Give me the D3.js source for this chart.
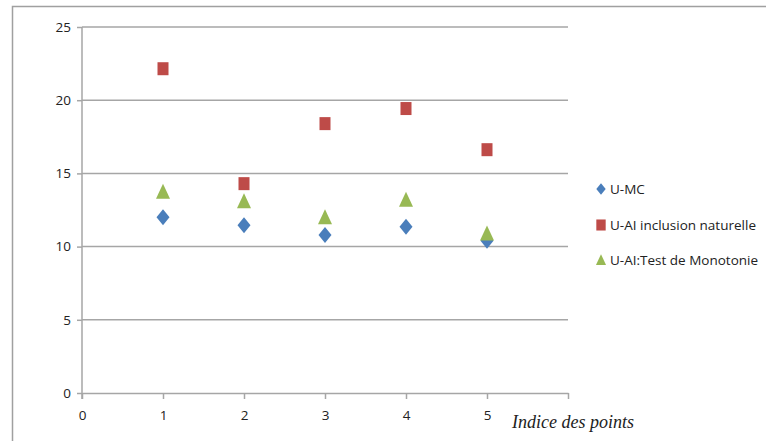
<!DOCTYPE html>
<html>
<head>
<meta charset="utf-8">
<script src="https://cdn.jsdelivr.net/npm/d3@7"></script>
<style>
  html, body { margin: 0; padding: 0; background: #fff; }
  svg { display: block; }
</style>
</head>
<body>
<svg id="chart" width="766" height="441"></svg>
<script>
// Point indices and the three series measured at each point
const pointIndex = [1, 2, 3, 4, 5];
const uMC = [12.0, 11.45, 10.8, 11.35, 10.4];
const uAIInclusion = [22.15, 14.3, 18.4, 19.43, 16.62];
const uAIMonotonie = [13.75, 13.1, 12.0, 13.2, 10.9];
const seriesNames = ["U-MC", "U-AI inclusion naturelle", "U-AI:Test de Monotonie"];
const yTicks = [0, 5, 10, 15, 20, 25];
const xTicks = [0, 1, 2, 3, 4, 5, 6];
const xTickLabels = ["0", "1", "2", "3", "4", "5"];
const xTitle = "Indice des points";

const svg = d3.select("#chart");
const W = 766, H = 441;
const plot = { left: 82, right: 568, top: 27, bottom: 393 };

const x = d3.scaleLinear().domain([0, 6]).range([plot.left, plot.right]);
const y = d3.scaleLinear().domain([0, 25]).range([plot.bottom, plot.top]);

const gridColor = "#a6a6a6";
const textColor = "#222";
const font = "'Open Sans', 'Liberation Sans', sans-serif";

// Outer chart frame (top and left edges)
svg.append("path")
  .attr("d", `M12.5,${H} L12.5,6.5 L${W},6.5`)
  .attr("fill", "none")
  .attr("stroke", "#a0a0a0")
  .attr("stroke-width", 1.5);

// Horizontal gridlines
svg.append("g")
  .selectAll("line")
  .data(yTicks.filter(d => d > 0))
  .join("line")
  .attr("x1", plot.left).attr("x2", plot.right)
  .attr("y1", d => y(d)).attr("y2", d => y(d))
  .attr("stroke", gridColor)
  .attr("stroke-width", 1.5);

// Y axis
const yAxis = svg.append("g")
  .attr("transform", `translate(${plot.left},0)`)
  .call(d3.axisLeft(y).tickValues(yTicks).tickSize(5).tickPadding(6).tickSizeOuter(0));
yAxis.select(".domain").remove();
yAxis.append("line")
  .attr("x1", 0).attr("x2", 0)
  .attr("y1", plot.top).attr("y2", plot.bottom + 6)
  .attr("stroke", gridColor).attr("stroke-width", 1.5);
yAxis.selectAll(".tick line").attr("stroke", gridColor).attr("stroke-width", 1.5);
yAxis.selectAll(".tick text")
  .attr("fill", textColor)
  .style("font-family", font)
  .style("font-size", "13.5px");

// X axis
const xAxis = svg.append("g")
  .attr("transform", `translate(0,${plot.bottom})`)
  .call(d3.axisBottom(x).tickValues(xTicks).tickSize(6).tickPadding(11).tickSizeOuter(0)
    .tickFormat((d, i) => xTickLabels[i] || ""));
xAxis.select(".domain")
  .attr("stroke", gridColor).attr("stroke-width", 1.5);
xAxis.selectAll(".tick line").attr("stroke", gridColor).attr("stroke-width", 1.5);
xAxis.selectAll(".tick text")
  .attr("fill", textColor)
  .style("font-family", font)
  .style("font-size", "13.5px");

// X axis title
svg.append("text")
  .attr("x", 512)
  .attr("y", 428)
  .attr("fill", textColor)
  .style("font-family", "'Liberation Serif', 'DejaVu Serif', serif")
  .style("font-style", "italic")
  .style("font-size", "18px")
  .text(xTitle);

// Marker shapes
const diamond = "M0,-8 L6.5,0 L0,8 L-6.5,0 Z";
const triangle = "M0,-8 L7,7 L-7,7 Z";
const colors = ["#4a7ebb", "#be4b48", "#98b954"];

const series = [uMC, uAIInclusion, uAIMonotonie];

function drawMarker(g, k) {
  if (k === 0) {
    g.append("path").attr("d", diamond).attr("fill", colors[0]);
  } else if (k === 1) {
    g.append("rect").attr("x", -5.5).attr("y", -6.5).attr("width", 11).attr("height", 13)
      .attr("fill", colors[1]);
  } else {
    g.append("path").attr("d", triangle).attr("fill", colors[2]);
  }
}

// Draw series in order: diamonds, squares, triangles on top
series.forEach((vals, k) => {
  const g = svg.append("g");
  vals.forEach((v, i) => {
    const m = g.append("g")
      .attr("transform", `translate(${x(pointIndex[i])},${y(v)})`);
    drawMarker(m, k);
  });
});

// Legend
const legendY = [189, 225, 260];
seriesNames.forEach((name, k) => {
  const g = svg.append("g").attr("transform", `translate(601,${legendY[k]})`);
  const m = g.append("g").attr("transform", k === 1 ? "scale(0.85)" : "scale(0.72)");
  drawMarker(m, k);
  g.append("text")
    .attr("x", 9)
    .attr("y", 5)
    .attr("fill", textColor)
    .style("font-family", font)
    .style("font-size", "13.5px")
    .text(name);
});
</script>
</body>
</html>
